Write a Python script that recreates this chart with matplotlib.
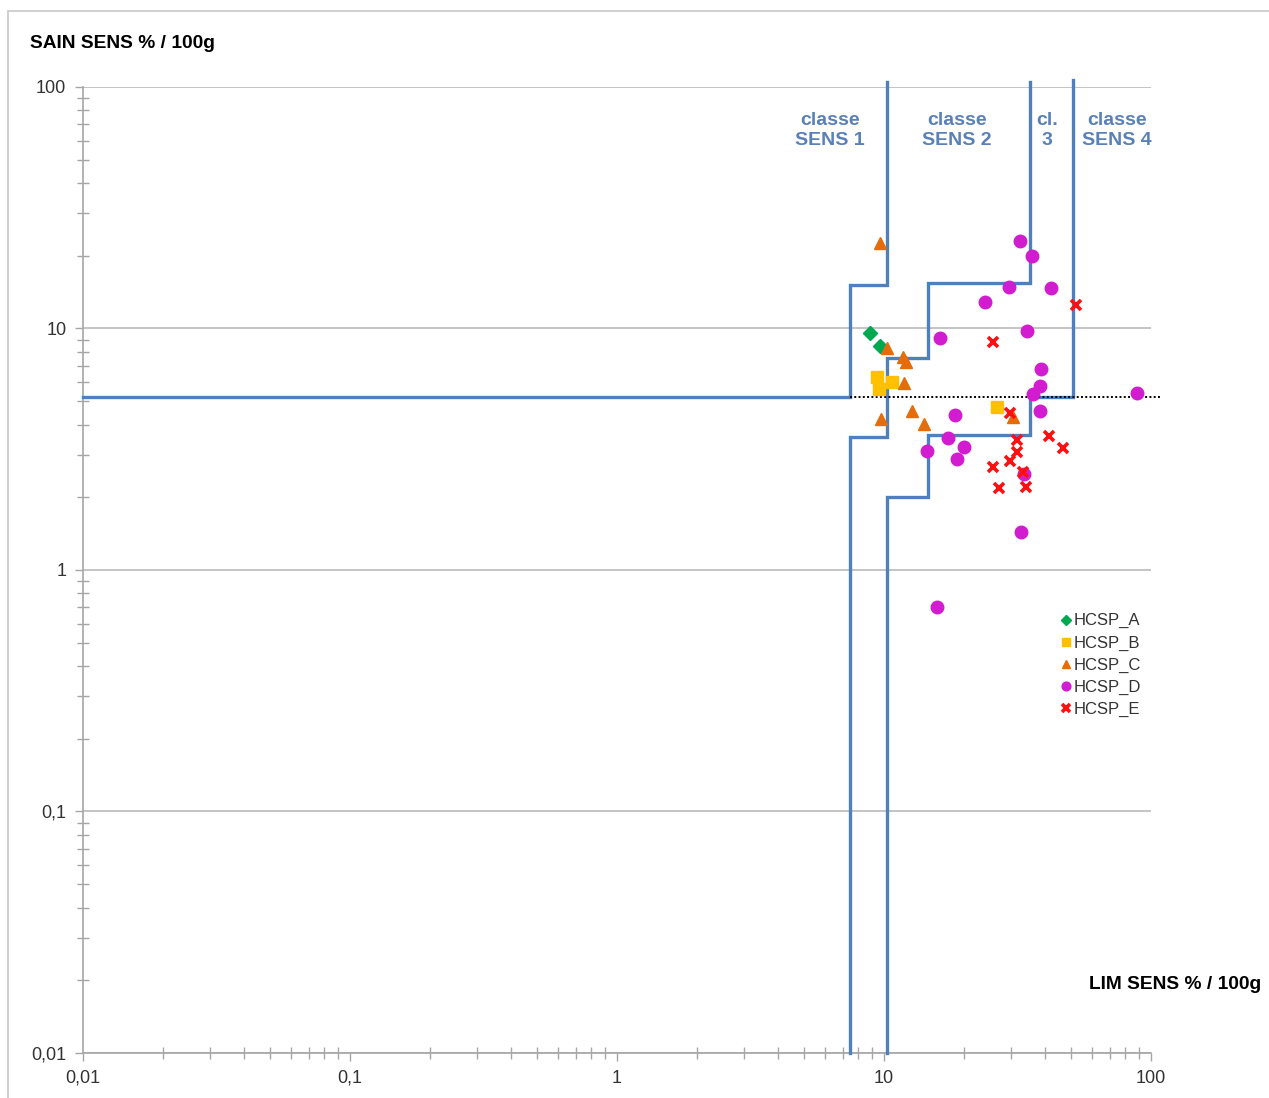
import matplotlib.pyplot as plt
from matplotlib.patches import Rectangle
from matplotlib.ticker import FixedLocator, LogLocator, NullFormatter

plt.rcParams['font.family'] = ['Liberation Sans', 'DejaVu Sans']

# LIM (x) / SAIN (y) scores per group
a_lim = [8.87, 9.66]
a_sain = [9.58, 8.46]

b_lim = [9.41, 10.7, 9.58, 26.5]
b_sain = [6.30, 6.00, 5.62, 4.73]

c_lim = [9.66, 10.26, 11.8, 12.1, 11.9, 9.74, 12.7, 14.1, 30.4]
c_sain = [22.6, 8.30, 7.62, 7.26, 5.95, 4.22, 4.55, 4.02, 4.30]

d_lim = [32.3, 35.8, 29.4, 42.2, 23.9, 34.3, 16.2, 38.7, 38.4, 36.1,
         88.6, 38.4, 18.4, 17.4, 19.9, 14.5, 18.8, 33.4, 32.6, 15.8]
d_sain = [23.0, 19.96, 14.85, 14.7, 12.9, 9.76, 9.13, 6.80, 5.78, 5.36,
          5.41, 4.55, 4.38, 3.52, 3.23, 3.11, 2.88, 2.50, 1.44, 0.70]

e_lim = [52.4, 25.6, 29.6, 31.5, 31.5, 29.6, 25.6, 33.2, 41.5, 46.8, 27.0, 34.0]
e_sain = [12.5, 8.80, 4.47, 3.45, 3.08, 2.83, 2.67, 2.55, 3.59, 3.20, 2.19, 2.21]

# class boundaries (step lines)
bound1_x = [0.01, 7.46, 7.46, 10.26, 10.26]
bound1_y = [5.2, 5.2, 15.1, 15.1, 105]
bound2_x = [7.46, 7.46, 10.26, 10.26, 14.6, 14.6, 35.2, 35.2]
bound2_y = [0.01, 3.55, 3.55, 7.55, 7.55, 15.4, 15.4, 105]
bound3_x = [10.26, 10.26, 14.6, 14.6, 35.2, 35.2, 51.0, 51.0]
bound3_y = [0.01, 2.0, 2.0, 3.62, 3.62, 5.2, 5.2, 107]
median_x = [7.46, 108]
median_y = [5.2, 5.2]

class_labels = ['classe\nSENS 1', 'classe\nSENS 2', 'cl.\n3', 'classe\nSENS 4']
class_label_x = [6.28, 18.8, 40.8, 74.6]

fig = plt.figure(figsize=(12.69, 10.98), dpi=100)
fig.patches.append(Rectangle((0.0063, -0.01), 1.1, 1.0,
                             transform=fig.transFigure, fill=False,
                             edgecolor='#c8c8c8', linewidth=1.2))
ax = fig.add_axes([0.0654, 0.041, 0.8416, 0.8798])
ax.set_xscale('log')
ax.set_yscale('log')
ax.set_xlim(0.01, 100)
ax.set_ylim(0.01, 100)

blue = '#4f7fbd'
for bx, by in [(bound1_x, bound1_y), (bound2_x, bound2_y), (bound3_x, bound3_y)]:
    ax.plot(bx, by, color=blue, lw=2.4, clip_on=False, zorder=3,
            solid_joinstyle='miter')
ax.plot(median_x, median_y, color='black', lw=1.4, ls=(0, (1, 1.2)),
        clip_on=False, zorder=3)

ax.plot(a_lim, a_sain, ls='none', marker='D', ms=7.5, color='#00a84f',
        mec='#00a84f', label='HCSP_A', zorder=4)
ax.plot(b_lim, b_sain, ls='none', marker='s', ms=8, color='#ffc000',
        label='HCSP_B', zorder=4)
ax.plot(c_lim, c_sain, ls='none', marker='^', ms=9, color='#e46c0a',
        label='HCSP_C', zorder=4)
ax.plot(d_lim, d_sain, ls='none', marker='o', ms=9, color='#d21ccf',
        label='HCSP_D', zorder=4)
ax.plot(e_lim, e_sain, ls='none', marker='x', ms=7.5, mew=2.6,
        color='#ff1010', label='HCSP_E', zorder=5)

for lbl, lx in zip(class_labels, class_label_x):
    ax.text(lx, 66, lbl, color='#5a80b8', fontsize=14, fontweight='bold',
            ha='center', va='center', linespacing=1.3)

# axes styling
for side in ['top', 'right']:
    ax.spines[side].set_visible(False)
for side in ['left', 'bottom']:
    ax.spines[side].set_color('#a6a6a6')
    ax.spines[side].set_linewidth(1.2)

majors = [0.01, 0.1, 1, 10, 100]
major_lbls = ['0,01', '0,1', '1', '10', '100']
ax.xaxis.set_major_locator(FixedLocator(majors))
ax.yaxis.set_major_locator(FixedLocator(majors))
ax.set_xticklabels(major_lbls)
ax.set_yticklabels(major_lbls)
ax.xaxis.set_minor_locator(LogLocator(base=10, subs=range(2, 10)))
ax.yaxis.set_minor_locator(LogLocator(base=10, subs=range(2, 10)))
ax.xaxis.set_minor_formatter(NullFormatter())
ax.yaxis.set_minor_formatter(NullFormatter())
ax.tick_params(which='major', direction='out', length=6, width=1,
               color='#a6a6a6', labelsize=13, labelcolor='#333333', pad=6)
ax.tick_params(which='minor', direction='inout', length=8, width=1,
               color='#a6a6a6')

ax.yaxis.grid(True, which='major', color='#b4b4b4', lw=1.1)
ax.xaxis.grid(False)
ax.set_axisbelow(True)

fig.text(0.024, 0.960, 'SAIN SENS % / 100g', fontsize=13.8, fontweight='bold',
         ha='left', va='center')
fig.text(0.9935, 0.1035, 'LIM SENS % / 100g', fontsize=13.8, fontweight='bold',
         ha='right', va='center')

ax.legend(loc='upper left', bbox_to_anchor=(0.910, 0.462), frameon=False,
          fontsize=12, handlelength=0.5, handletextpad=0.2,
          labelspacing=0.42, borderaxespad=0, markerscale=0.7,
          labelcolor='#333333')

fig.savefig('out.png', dpi=100, facecolor='white')
